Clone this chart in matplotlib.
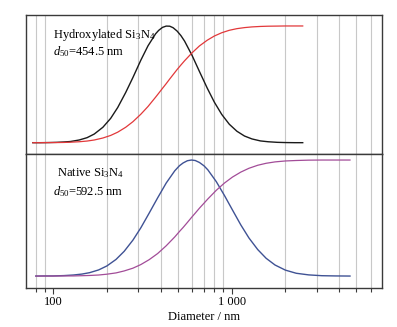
import matplotlib
matplotlib.use('Agg')
import matplotlib.pyplot as plt
from matplotlib.ticker import FixedLocator, FuncFormatter, LogLocator, NullFormatter

plt.rcParams['font.family'] = 'Liberation Serif'
plt.rcParams['mathtext.fontset'] = 'custom'
plt.rcParams['mathtext.rm'] = 'Liberation Serif'
plt.rcParams['mathtext.it'] = 'Liberation Serif:italic'

# Hydroxylated Si3N4 (top panel) (0-100 scale)
diam_h = [77, 85, 95, 105, 115, 125, 140, 155, 170, 190, 210, 230, 255, 280,
          310, 340, 375, 390, 410, 430, 450, 470, 495, 520, 545, 600, 660, 730,
          800, 880, 970, 1070, 1180, 1300, 1450, 1600, 1800, 2000, 2250, 2500]
dist_h = [0.0, 0.0, 0.1, 0.3, 0.6, 1.0, 2.3, 4.3, 7.4, 13.2, 20.8, 30.1, 43.0,
          55.9, 70.7, 83.0, 93.3, 96.2, 98.8, 99.9, 99.8, 98.5, 95.6, 91.7,
          87.0, 74.8, 61.0, 46.7, 34.7, 24.2, 15.8, 9.8, 5.7, 3.2, 1.5, 0.8,
          0.3, 0.1, 0.0, 0.0]
cum_h = [0.0, 0.0, 0.1, 0.1, 0.2, 0.4, 0.8, 1.4, 2.3, 4.0, 6.2, 9.0, 13.2,
         18.0, 24.4, 31.0, 39.0, 42.3, 46.6, 50.6, 54.6, 58.3, 62.7, 66.6,
         70.2, 77.0, 82.9, 87.8, 91.4, 94.2, 96.3, 97.7, 98.6, 99.2, 99.6,
         99.8, 99.9, 100, 100, 100]

# Native Si3N4 (bottom panel)
diam_n = [80, 90, 100, 115, 130, 145, 160, 180, 200, 225, 250, 280, 310, 345,
          385, 430, 480, 510, 535, 565, 595, 625, 660, 700, 735, 820, 910, 1010,
          1125, 1250, 1400, 1560, 1750, 2000, 2300, 2700, 3200, 3800, 4600]
dist_n = [0.0, 0.1, 0.1, 0.4, 0.9, 1.7, 2.9, 5.3, 8.7, 14.3, 21.3, 31.0, 41.6,
          54.2, 67.4, 80.2, 90.7, 95.1, 97.5, 99.4, 100.0, 99.6, 97.9, 95.0,
          91.6, 81.4, 69.6, 57.0, 44.1, 32.8, 22.8, 15.3, 9.5, 5.1, 2.4, 1.0,
          0.3, 0.1, 0.0]
cum_n = [0.0, 0.0, 0.0, 0.1, 0.1, 0.3, 0.5, 0.9, 1.6, 2.7, 4.4, 6.8, 9.9, 14.1,
         19.4, 26.1, 33.7, 38.4, 41.9, 46.2, 50.4, 54.2, 58.5, 62.8, 66.4,
         73.9, 80.1, 85.3, 89.6, 92.9, 95.5, 97.2, 98.4, 99.2, 99.6, 99.9,
         100, 100, 100]

labels = ['Hydroxylated Si$_3$N$_4$', 'Native Si$_3$N$_4$']
d50 = ['454.5', '592.5']

fig = plt.figure(figsize=(3.97, 3.27), dpi=100)
left, right = 26 / 397, 382 / 397
ytop, ymid, ybot = 1 - 15 / 327, 1 - 154 / 327, 1 - 288 / 327
ax1 = fig.add_axes([left, ymid, right - left, ytop - ymid])
ax2 = fig.add_axes([left, ybot, right - left, ymid - ybot])

grid_pos = [m * 10 ** e for e in (1, 2, 3) for m in range(2, 10)]

for ax in (ax1, ax2):
    ax.set_xscale('log')
    ax.set_xlim(70.5, 6950)
    ax.set_yticks([])
    for x in grid_pos:
        ax.axvline(x, color='#c8c8c8', lw=0.8, zorder=0)
    for s in ax.spines.values():
        s.set_color('#3a3a3a')
        s.set_linewidth(1.0)

ax1.plot(diam_h, dist_h, color='#1a1a1a', lw=1.0)
ax1.plot(diam_h, cum_h, color='#e2383a', lw=0.9)
ax1.set_ylim(-9.7, 109.4)
ax1.tick_params(axis='x', which='both', bottom=False, labelbottom=False)

ax2.plot(diam_n, dist_n, color='#3f5294', lw=1.0)
ax2.plot(diam_n, cum_n, color='#a24c98', lw=0.9)
ax2.set_ylim(-10.3, 105.2)
ax2.xaxis.set_major_locator(FixedLocator([100, 1000]))
ax2.xaxis.set_major_formatter(FuncFormatter(lambda v, p: '{:,}'.format(int(v)).replace(',', ' ')))
ax2.xaxis.set_minor_locator(LogLocator(base=10, subs=range(2, 10)))
ax2.xaxis.set_minor_formatter(NullFormatter())
ax2.tick_params(axis='x', which='major', direction='out', length=4, width=0.8,
                color='#3a3a3a', labelsize=9, pad=2)
ax2.tick_params(axis='x', which='minor', direction='out', length=3, width=0.8,
                color='#3a3a3a')
ax2.set_xlabel('Diameter / nm', fontsize=9, labelpad=2)

for ax, lab, d, dx in ((ax1, labels[0], d50[0], 0.075), (ax2, labels[1], d50[1], 0.088)):
    ax.text(dx, 0.855, lab, transform=ax.transAxes, fontsize=9, va='center')
    ax.text(0.077, 0.735 if ax is ax1 else 0.72, r'$d_{50}$=' + d + ' nm',
            transform=ax.transAxes, fontsize=9, va='center')

fig.savefig('out.png', dpi=100)
